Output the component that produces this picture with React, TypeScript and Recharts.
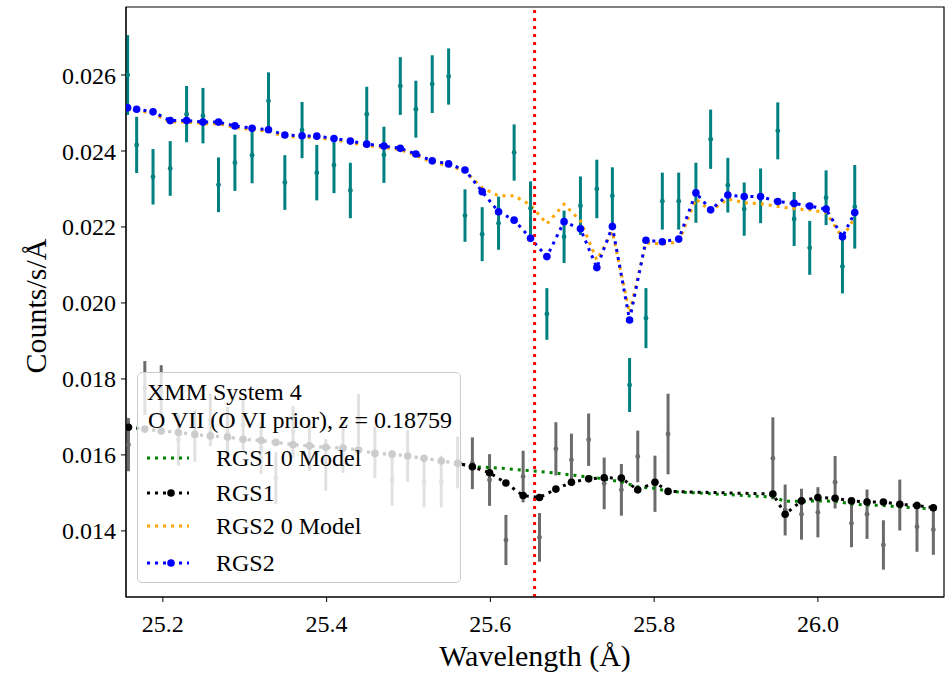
import React from "react";
import {
  ComposedChart,
  Line,
  Scatter,
  ErrorBar,
  XAxis,
  YAxis,
  ReferenceLine,
  ReferenceArea,
  Label,
} from "recharts";

// RGS2 binned spectrum (teal) with folded models
const rgs2Wave = [
  25.157, 25.168, 25.188, 25.209, 25.229, 25.249, 25.268, 25.288, 25.309, 25.329,
  25.349, 25.370, 25.388, 25.409, 25.429, 25.449, 25.470, 25.490, 25.509, 25.529,
  25.549, 25.569, 25.590, 25.610, 25.629, 25.649, 25.669, 25.690, 25.710, 25.730,
  25.749, 25.770, 25.790, 25.810, 25.830, 25.851, 25.869, 25.890, 25.910, 25.930,
  25.951, 25.971, 25.990, 26.010, 26.030, 26.045,
];
const rgs2Counts = [
  0.02600, 0.02416, 0.02332, 0.02354, 0.02497, 0.02493, 0.02311, 0.02369, 0.02389, 0.02532,
  0.02317, 0.02455, 0.02343, 0.02363, 0.02296, 0.02497, 0.02390, 0.02571, 0.02510, 0.02576,
  0.02596, 0.02230, 0.02181, 0.02210, 0.02396, 0.02249, 0.01971, 0.02174, 0.02256, 0.02300,
  0.02282, 0.01784, 0.01960, 0.02268, 0.02268, 0.02290, 0.02431, 0.02310, 0.02247, 0.02282,
  0.02453, 0.02221, 0.02145, 0.02277, 0.02096, 0.02253,
];
const rgs2Err = [
  0.00105, 0.00074, 0.00073, 0.00072, 0.00074, 0.00073, 0.00072, 0.00074, 0.00074, 0.00075,
  0.00072, 0.00074, 0.00073, 0.00074, 0.00073, 0.00072, 0.00074, 0.00076, 0.00075, 0.00076,
  0.00074, 0.00069, 0.00071, 0.00070, 0.00074, 0.00071, 0.00068, 0.00069, 0.00077, 0.00077,
  0.00075, 0.00071, 0.00079, 0.00075, 0.00075, 0.00079, 0.00078, 0.00072, 0.00070, 0.00072,
  0.00075, 0.00071, 0.00071, 0.00072, 0.00071, 0.00110,
];
const rgs2Model = [
  0.02514, 0.02510, 0.02503, 0.02480, 0.02480, 0.02476, 0.02476, 0.02466, 0.02460, 0.02456,
  0.02442, 0.02440, 0.02439, 0.02433, 0.02426, 0.02418, 0.02413, 0.02407, 0.02392, 0.02374,
  0.02366, 0.02350, 0.02293, 0.02240, 0.02218, 0.02170, 0.02122, 0.02214, 0.02195, 0.02093,
  0.02201, 0.01955, 0.02165, 0.02161, 0.02168, 0.02290, 0.02245, 0.02284, 0.02280, 0.02280,
  0.02267, 0.02262, 0.02255, 0.02247, 0.02174, 0.02238,
];
const rgs2ZeroModel = [
  0.02510, 0.02506, 0.02499, 0.02476, 0.02476, 0.02472, 0.02472, 0.02462, 0.02456, 0.02452,
  0.02438, 0.02436, 0.02435, 0.02429, 0.02422, 0.02414, 0.02409, 0.02403, 0.02388, 0.02370,
  0.02362, 0.02347, 0.02303, 0.02282, 0.02282, 0.02258, 0.02208, 0.02260, 0.02216, 0.02113,
  0.02188, 0.01974, 0.02158, 0.02155, 0.02160, 0.02274, 0.02242, 0.02274, 0.02264, 0.02261,
  0.02254, 0.02248, 0.02245, 0.02238, 0.02172, 0.02225,
];

// RGS1 binned spectrum (grey) with folded models
const rgs1Wave = [
  25.158, 25.178, 25.198, 25.219, 25.239, 25.258, 25.279, 25.298, 25.320, 25.338,
  25.359, 25.379, 25.399, 25.420, 25.439, 25.459, 25.480, 25.499, 25.519, 25.540,
  25.560, 25.578, 25.599, 25.619, 25.640, 25.660, 25.680, 25.699, 25.720, 25.739,
  25.760, 25.780, 25.801, 25.817, 25.945, 25.960, 25.980, 26.000, 26.021, 26.041,
  26.060, 26.080, 26.100, 26.121, 26.141,
];
const rgs1Counts = [
  0.01627, 0.01776, 0.01766, 0.01640, 0.01650, 0.01692, 0.01658, 0.01679, 0.01618, 0.01539,
  0.01661, 0.01626, 0.01574, 0.01621, 0.01692, 0.01607, 0.01534, 0.01597, 0.01530, 0.01530,
  0.01580, 0.01578, 0.01534, 0.01376, 0.01543, 0.01383, 0.01616, 0.01587, 0.01640, 0.01525,
  0.01508, 0.01596, 0.01524, 0.01655, 0.01591, 0.01455, 0.01444, 0.01449, 0.01528, 0.01420,
  0.01444, 0.01363, 0.01468, 0.01411, 0.01403,
];
const rgs1Err = [
  0.00070, 0.00071, 0.00070, 0.00068, 0.00068, 0.00069, 0.00068, 0.00068, 0.00068, 0.00068,
  0.00068, 0.00068, 0.00068, 0.00068, 0.00068, 0.00068, 0.00068, 0.00068, 0.00068, 0.00068,
  0.00068, 0.00068, 0.00068, 0.00066, 0.00068, 0.00064, 0.00070, 0.00069, 0.00069, 0.00068,
  0.00068, 0.00068, 0.00074, 0.00106, 0.00108, 0.00067, 0.00067, 0.00066, 0.00069, 0.00063,
  0.00065, 0.00065, 0.00067, 0.00066, 0.00066,
];
const rgs1Model = [
  0.01673, 0.01668, 0.01663, 0.01659, 0.01654, 0.01650, 0.01647, 0.01641, 0.01638, 0.01633,
  0.01627, 0.01624, 0.01620, 0.01618, 0.01613, 0.01604, 0.01602, 0.01597, 0.01591, 0.01584,
  0.01578, 0.01569, 0.01553, 0.01526, 0.01493, 0.01488, 0.01510, 0.01528, 0.01537, 0.01540,
  0.01539, 0.01508, 0.01528, 0.01504, 0.01497, 0.01444, 0.01479, 0.01488, 0.01486, 0.01479,
  0.01476, 0.01476, 0.01470, 0.01467, 0.01461,
];
const rgs1ZeroModel = [
  0.01673, 0.01668, 0.01663, 0.01659, 0.01654, 0.01650, 0.01647, 0.01641, 0.01638, 0.01633,
  0.01627, 0.01624, 0.01620, 0.01618, 0.01613, 0.01604, 0.01602, 0.01597, 0.01591, 0.01584,
  0.01578, 0.01569, 0.01567, 0.01564, 0.01560, 0.01556, 0.01552, 0.01547, 0.01542, 0.01537,
  0.01529, 0.01516, 0.01512, 0.01504, 0.01489, 0.01478, 0.01478, 0.01479, 0.01478, 0.01471,
  0.01468, 0.01467, 0.01463, 0.01461, 0.01457,
];

const xTicks = [25.2, 25.4, 25.6, 25.8, 26.0];
const yTicks = [0.014, 0.016, 0.018, 0.02, 0.022, 0.024, 0.026];
const lineCenter = 25.654; // O VII at z = 0.18759

const X_DOMAIN: [number, number] = [25.155, 26.154];
const Y_DOMAIN: [number, number] = [0.01226, 0.02779];

const FONT = '"Liberation Serif", "Times New Roman", serif';
const TEAL = "#008080";
const GREY = "#6b6b6b";
const DOTS = "3 5";

const pts = (xs: number[], ys: number[], errs?: number[]) =>
  xs.map((x, i) => ({ x, y: ys[i], err: errs ? errs[i] : 0 }));

const rgs2Data = pts(rgs2Wave, rgs2Counts, rgs2Err);
const rgs1Data = pts(rgs1Wave, rgs1Counts, rgs1Err);

const markerDot = (color: string) => (p: any) => (
  <circle key={`m-${color}-${p.index}`} cx={p.cx} cy={p.cy} r={3.8} fill={color} />
);

const dataDot = (color: string) => (p: any) => (
  <circle cx={p.cx} cy={p.cy} r={2.4} fill={color} />
);

function Handle({ color, marker }: { color: string; marker?: boolean }) {
  return (
    <svg width={44} height={12} style={{ display: "block" }}>
      <line x1={0} y1={6} x2={42} y2={6} stroke={color} strokeWidth={3} strokeDasharray={DOTS} />
      {marker && <circle cx={24} cy={6} r={3.8} fill={color} />}
    </svg>
  );
}

const legendItems = [
  { label: "RGS1 0 Model", color: "#008000", marker: false, top: 85 },
  { label: "RGS1", color: "#000000", marker: true, top: 120 },
  { label: "RGS2 0 Model", color: "#ffa500", marker: false, top: 153 },
  { label: "RGS2", color: "#0000ff", marker: true, top: 190 },
];

export default function App() {
  return (
    <div
      style={{
        position: "absolute",
        left: 0,
        top: 0,
        width: 948,
        height: 677,
        background: "#fff",
        fontFamily: FONT,
      }}
    >
      <ComposedChart
        width={948}
        height={677}
        margin={{ top: 7, right: 4, bottom: 0, left: 0 }}
      >
        <XAxis
          dataKey="x"
          type="number"
          domain={X_DOMAIN}
          allowDataOverflow
          ticks={xTicks}
          tickFormatter={(v: number) => v.toFixed(1)}
          height={80}
          tickSize={5}
          tickMargin={13}
          tick={{ fill: "#000", fontSize: 24, fontFamily: FONT }}
          axisLine={{ stroke: "#000" }}
          tickLine={{ stroke: "#000" }}
        >
          <Label
            value="Wavelength (Å)"
            position="center"
            dy={18}
            style={{ fontSize: 30, fontFamily: FONT, fill: "#000" }}
          />
        </XAxis>
        <YAxis
          dataKey="y"
          type="number"
          domain={Y_DOMAIN}
          allowDataOverflow
          ticks={yTicks}
          tickFormatter={(v: number) => v.toFixed(3)}
          width={126}
          tickSize={5}
          tickMargin={5}
          tick={{ fill: "#000", fontSize: 24, fontFamily: FONT }}
          axisLine={{ stroke: "#000" }}
          tickLine={{ stroke: "#000" }}
        >
          <Label
            value="Counts/s/Å"
            position="center"
            angle={-90}
            dx={-28}
            dy={4}
            style={{ fontSize: 30, fontFamily: FONT, fill: "#000", textAnchor: "middle" }}
          />
        </YAxis>

        <Scatter
          data={rgs1Data}
          dataKey="y"
          fill={GREY}
          shape={dataDot(GREY)}
          isAnimationActive={false}
        >
          <ErrorBar dataKey="err" direction="y" width={0} stroke={GREY} strokeWidth={3} />
        </Scatter>
        <Scatter
          data={rgs2Data}
          dataKey="y"
          fill={TEAL}
          shape={dataDot(TEAL)}
          isAnimationActive={false}
        >
          <ErrorBar dataKey="err" direction="y" width={0} stroke={TEAL} strokeWidth={3} />
        </Scatter>

        <Line
          data={pts(rgs1Wave, rgs1ZeroModel)}
          dataKey="y"
          type="linear"
          stroke="#008000"
          strokeWidth={3}
          strokeDasharray={DOTS}
          dot={false}
          activeDot={false}
          isAnimationActive={false}
        />
        <Line
          data={pts(rgs1Wave, rgs1Model)}
          dataKey="y"
          type="linear"
          stroke="#000000"
          strokeWidth={3}
          strokeDasharray={DOTS}
          dot={markerDot("#000000")}
          activeDot={false}
          isAnimationActive={false}
        />
        <Line
          data={pts(rgs2Wave, rgs2ZeroModel)}
          dataKey="y"
          type="linear"
          stroke="#ffa500"
          strokeWidth={3}
          strokeDasharray={DOTS}
          dot={false}
          activeDot={false}
          isAnimationActive={false}
        />
        <Line
          data={pts(rgs2Wave, rgs2Model)}
          dataKey="y"
          type="linear"
          stroke="#0000ff"
          strokeWidth={3}
          strokeDasharray={DOTS}
          dot={markerDot("#0000ff")}
          activeDot={false}
          isAnimationActive={false}
        />

        <ReferenceLine x={lineCenter} stroke="#ff0000" strokeWidth={3} strokeDasharray={DOTS} />
        <ReferenceArea
          x1={X_DOMAIN[0]}
          x2={X_DOMAIN[1]}
          y1={Y_DOMAIN[0]}
          y2={Y_DOMAIN[1]}
          fill="none"
          stroke="#000"
          strokeWidth={1.2}
        />
      </ComposedChart>

      <div
        style={{
          position: "absolute",
          left: 137,
          top: 372,
          width: 324,
          height: 211,
          boxSizing: "border-box",
          background: "rgba(255,255,255,0.8)",
          border: "1px solid #cccccc",
          borderRadius: 5,
          fontSize: 24,
          color: "#000",
          whiteSpace: "nowrap",
        }}
      >
        <div style={{ position: "absolute", left: 9, top: 5, lineHeight: "28px" }}>
          XMM System 4
        </div>
        <div style={{ position: "absolute", left: 10, top: 33, lineHeight: "28px" }}>
          O VII (O VI prior), <i>z</i> = 0.18759
        </div>
        {legendItems.map((it) => (
          <div
            key={it.label}
            style={{ position: "absolute", left: 9, top: it.top - 14, height: 28, display: "flex", alignItems: "center" }}
          >
            <Handle color={it.color} marker={it.marker} />
            <span style={{ marginLeft: 25, lineHeight: "28px" }}>{it.label}</span>
          </div>
        ))}
      </div>
    </div>
  );
}
